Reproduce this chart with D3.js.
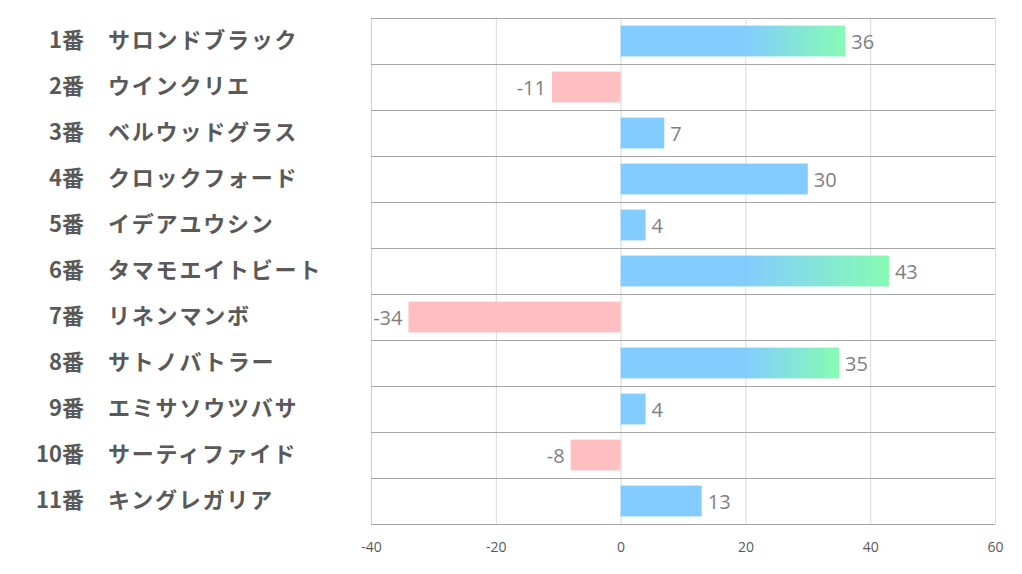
<!DOCTYPE html>
<html><head><meta charset="utf-8">
<script src="https://cdn.jsdelivr.net/npm/d3@7"></script>
<style>
html,body{margin:0;padding:0;background:#fff;}
svg{display:block;}
</style></head>
<body>
<svg id="chart" width="1022" height="574"></svg>
<script>
const numbers = ["1番","2番","3番","4番","5番","6番","7番","8番","9番","10番","11番"];
const names = ["サロンドブラック","ウインクリエ","ベルウッドグラス","クロックフォード","イデアユウシン","タマモエイトビート","リネンマンボ","サトノバトラー","エミサソウツバサ","サーティファイド","キングレガリア"];
const values = [36,-11,7,30,4,43,-34,35,4,-8,13];
const gradientBars = ["サロンドブラック","タマモエイトビート","サトノバトラー"];
const tickValues = [-40,-20,0,20,40,60];

(function(){
const svg = d3.select("#chart");
const pL = 371, pR = 995, pT = 18, pB = 524;
const x = d3.scaleLinear().domain([-40,60]).range([pL,pR]);
const y = d3.scaleBand().domain(names).range([pT,pB]).paddingInner(0.33).paddingOuter(0.165);
const rowStep = (pB-pT)/names.length;

const defs = svg.append("defs");

// vertical gridlines
svg.append("g").selectAll("line").data(tickValues).join("line")
  .attr("x1",d=>x(d)+0.5).attr("x2",d=>x(d)+0.5).attr("y1",pT).attr("y2",pB)
  .attr("stroke",d=>d===-40?"#d0d0d0":"#d9d9d9").attr("stroke-width",1);

// horizontal row lines
svg.append("g").selectAll("line").data(d3.range(names.length+1)).join("line")
  .attr("x1",pL).attr("x2",pR)
  .attr("y1",i=>pT+i*rowStep+0.5).attr("y2",i=>pT+i*rowStep+0.5)
  .attr("stroke","#a6a6a6").attr("stroke-width",1);

// gradients
names.forEach((n,i)=>{
  if(gradientBars.includes(n)){
    const g = defs.append("linearGradient").attr("id","grad"+i)
      .attr("gradientUnits","userSpaceOnUse")
      .attr("x1",x(20)).attr("x2",x(values[i])).attr("y1",0).attr("y2",0);
    g.append("stop").attr("offset","0%").attr("stop-color","#7ccafe");
    g.append("stop").attr("offset","100%").attr("stop-color","#80fbaf");
  }
});

// bars
svg.append("g").selectAll("rect").data(values).join("rect")
  .attr("x",d=>x(Math.min(0,d)))
  .attr("width",d=>Math.abs(x(d)-x(0)))
  .attr("y",(d,i)=>y(names[i]))
  .attr("height",y.bandwidth())
  .attr("fill",(d,i)=>gradientBars.includes(names[i])?`url(#grad${i})`:(d<0?"#ffbcbd":"#7ccafe"))
  .attr("fill-opacity",0.95);

// value labels
svg.append("g").selectAll("text").data(values).join("text")
  .attr("x",d=>d>=0?x(d)+6:x(d)-6)
  .attr("y",(d,i)=>y(names[i])+y.bandwidth()/2+1)
  .attr("dy","0.36em")
  .attr("text-anchor",d=>d>=0?"start":"end")
  .attr("font-family","'Open Sans','Noto Sans',sans-serif")
  .attr("font-size",20)
  .attr("fill","#7f7f7f")
  .text(d=>d);

// category labels
const lab = svg.append("g").attr("font-family","'Noto Sans CJK JP',sans-serif")
  .attr("font-weight","bold").attr("font-size",22).attr("fill","#595959");
lab.selectAll("text.num").data(numbers).join("text").attr("class","num")
  .attr("x",84).attr("text-anchor","end")
  .attr("y",(d,i)=>y(names[i])+y.bandwidth()/2-1).attr("dy","0.35em")
  .text(d=>d);
lab.selectAll("text.nm").data(names).join("text").attr("class","nm")
  .attr("x",108).attr("text-anchor","start")
  .attr("letter-spacing","1.8px")
  .attr("y",d=>y(d)+y.bandwidth()/2-1).attr("dy","0.35em")
  .text(d=>d);

// x axis
const axis = svg.append("g").attr("transform",`translate(0,${pB})`)
  .call(d3.axisBottom(x).tickValues(tickValues).tickSize(0).tickPadding(18).tickFormat(d=>String(d)));
axis.select(".domain").attr("stroke","#a6a6a6").attr("d",`M${pL},0.5H${pR}`);
axis.selectAll("text").attr("font-family","'Open Sans','Noto Sans',sans-serif").attr("font-size",14).attr("fill","#595959");
})();
</script>
</body></html>
